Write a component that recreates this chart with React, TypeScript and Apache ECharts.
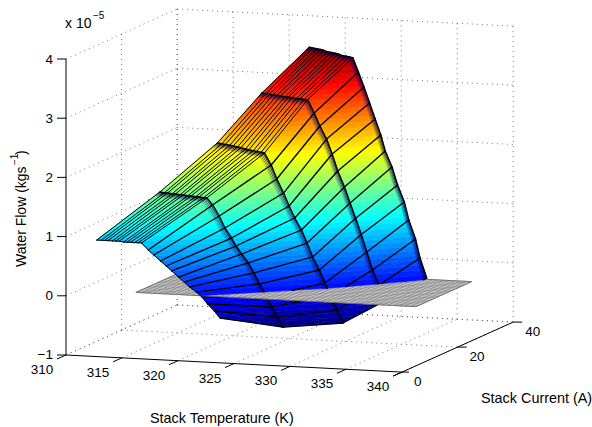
import React, { useEffect, useRef } from "react";
import * as echarts from "echarts";

// Stack current of each mesh column (A)
const currents = [5, 10, 15, 20, 25];
// Stack temperature (K) of each mesh node, one list per current
const tempAt5A = [311.5,311.9,312.2,312.5,312.9,313.2,313.5,313.9,314.2,314.5,314.9,315.2,315.5,316.1,316.6,317.2,317.7,318.2,318.8,319.3,319.8,320.4,320.9,321.4,322.0,322.5];
const tempAt10A = [315.9,316.3,316.6,317.0,317.3,317.7,318.0,318.4,318.7,319.1,319.4,319.8,320.1,320.6,321.2,321.7,322.3,322.7,323.2,323.8,324.3,324.8,325.4,325.9,326.4,326.9];
const tempAt15A = [319.8,320.2,320.5,320.9,321.2,321.6,321.9,322.3,322.6,323.0,323.3,323.7,324.0,324.6,325.1,325.7,326.2,326.7,327.3,327.8,328.3,328.9,329.4,329.9,330.5,331.0];
const tempAt20A = [322.5,322.9,323.2,323.5,323.9,324.2,324.6,324.9,325.2,325.6,325.9,326.3,326.6,327.2,327.7,328.3,328.8,329.3,329.9,330.4,330.9,331.4,331.9,332.4,333.0,333.5];
const tempAt25A = [325.5,325.8,326.2,326.5,326.8,327.1,327.5,327.8,328.1,328.4,328.8,329.1,329.4,329.9,330.4,330.9,331.4,331.9,332.3,332.9,333.4,334.0,334.4,335.0,335.4,336.0];
// Water flow (x 10^-5 kg/s) of each mesh node, one list per current
const flowAt5A = [0.85,0.85,0.85,0.85,0.85,0.85,0.85,0.84,0.84,0.84,0.84,0.84,0.84,0.727,0.647,0.551,0.472,0.393,0.296,0.217,0.138,0.058,-0.021,-0.134,-0.247,-0.36];
const flowAt10A = [1.6,1.59,1.59,1.58,1.58,1.57,1.57,1.56,1.56,1.55,1.55,1.54,1.54,1.425,1.244,1.047,0.883,0.752,0.622,0.476,0.312,0.131,-0.066,-0.247,-0.412,-0.576];
const flowAt15A = [2.36,2.35,2.34,2.33,2.32,2.31,2.3,2.28,2.27,2.26,2.25,2.24,2.23,2.033,1.802,1.57,1.356,1.158,0.961,0.746,0.515,0.301,0.086,-0.128,-0.359,-0.574];
const flowAt20A = [3.12,3.12,3.11,3.1,3.1,3.09,3.08,3.08,3.07,3.06,3.06,3.05,3.05,2.831,2.616,2.402,2.154,1.872,1.607,1.342,1.09,0.82,0.53,0.23,-0.019,-0.284];
const flowAt25A = [3.82,3.81,3.8,3.79,3.78,3.76,3.75,3.74,3.73,3.71,3.7,3.69,3.68,3.444,3.196,2.93,2.665,2.399,2.134,1.869,1.569,1.287,0.988,0.672,0.355,0.023];

const temps = [tempAt5A, tempAt10A, tempAt15A, tempAt20A, tempAt25A];
const flows = [flowAt5A, flowAt10A, flowAt15A, flowAt20A, flowAt25A];

// Axis ticks
const tempTicks = [310, 315, 320, 325, 330, 335, 340];
const currentTicks = [0, 20, 40];
const flowTicks = [-1, 0, 1, 2, 3, 4];
// Zero-flow reference plane
const planeTemps = [315, 340];
const planeCurrents = [5, 25];

const FONT = '"Liberation Sans", Arial, sans-serif';
const W = 592;
const H = 427;
const T0 = 310, T1 = 340, I0 = 0, I1 = 40, Z0 = -1, Z1 = 4;

type P3 = [number, number, number];
const proj = (p: P3): number[] => [
  66 + 11.2 * (p[0] - 310) + 2.78 * p[1],
  355 + 0.57 * (p[0] - 310) - 1.25 * p[1] - 59.2 * (p[2] + 1),
];

const flowMin = -0.576, flowMax = 3.824;
function jet(v: number): string {
  const t = Math.max(0, Math.min(1, (v - flowMin) / (flowMax - flowMin)));
  const ch = (x: number) => Math.round(255 * Math.max(0, Math.min(1, 1.5 - Math.abs(4 * t - x))));
  return `rgb(${ch(3)},${ch(2)},${ch(1)})`;
}

const STEP = 0.08;
const mix = (a: P3, b: P3, f: number): P3 => [a[0] + (b[0] - a[0]) * f, a[1] + (b[1] - a[1]) * f, a[2] + (b[2] - a[2]) * f];
function clipZ(poly: P3[], lim: number, keepAbove: boolean): P3[] {
  const out: P3[] = [];
  for (let i = 0; i < poly.length; i++) {
    const a = poly[i], b = poly[(i + 1) % poly.length];
    const ina = keepAbove ? a[2] >= lim : a[2] <= lim;
    const inb = keepAbove ? b[2] >= lim : b[2] <= lim;
    if (ina) out.push(a);
    if (ina !== inb) out.push(mix(a, b, (lim - a[2]) / (b[2] - a[2])));
  }
  return out;
}
const node = (c: number, r: number): P3 => [temps[c][r], currents[c], flows[c][r]];

const quads: number[][] = [];
for (let c = currents.length - 2; c >= 0; c--) for (let r = 0; r < tempAt5A.length - 1; r++) quads.push([c, r]);

function fillBuilder(above: boolean) {
  return (_: any, api: any) => {
    const c = api.value(0), r = api.value(1);
    const a = node(c, r), b = node(c + 1, r), d = node(c + 1, r + 1), e = node(c, r + 1);
    const children: any[] = [];
    for (const tri of [[a, b, d], [a, d, e]] as P3[][]) {
      const zs = tri.map((p) => p[2]);
      const kMin = Math.floor(Math.min(...zs) / STEP), kMax = Math.floor(Math.max(...zs) / STEP);
      for (let k = kMin; k <= kMax; k++) {
        if ((k >= 0) !== above) continue;
        let poly = clipZ(tri, k * STEP, true);
        poly = clipZ(poly, (k + 1) * STEP, false);
        if (poly.length < 3) continue;
        const col = jet((k + 0.5) * STEP);
        children.push({
          type: "polygon",
          silent: true,
          shape: { points: poly.map((p) => api.coord(proj(p))) },
          style: { fill: col, stroke: col, lineWidth: 0.6 },
        });
      }
    }
    return { type: "group", children };
  };
}

function seg(api: any, a: P3, b: P3, above: boolean, stroke: string, lineWidth: number) {
  let p = a, q = b;
  const sa = a[2] >= 0, sb = b[2] >= 0;
  if (sa !== above && sb !== above) return null;
  if (sa !== sb) {
    const m = mix(a, b, (0 - a[2]) / (b[2] - a[2]));
    if (sa === above) q = m; else p = m;
  }
  const s = api.coord(proj(p)), t = api.coord(proj(q));
  return { type: "line", silent: true, shape: { x1: s[0], y1: s[1], x2: t[0], y2: t[1] }, style: { stroke, lineWidth, lineCap: "round" } };
}

const bandFractions = [0.02, 0.04, 0.06, 0.08];
const PLATEAU_END = 12;
function edgeBuilder(above: boolean) {
  return (_: any, api: any) => {
    const children: any[] = [];
    const add = (el: any) => { if (el) children.push(el); };
    const nR = tempAt5A.length;
    for (let c = 1; c < currents.length; c++) {
      bandFractions.forEach((f, n) => {
        const stroke = `rgba(0,0,110,${0.8 - n * 0.2})`;
        for (let r = 0; r < nR - 1; r++) {
          add(seg(api, mix(node(c, r), node(c - 1, r), f), mix(node(c, r + 1), node(c - 1, r + 1), f), above, stroke, 1));
        }
      });
    }
    for (let r = 0; r < nR; r++) {
      for (let c = 0; c < currents.length - 1; c++) add(seg(api, node(c, r), node(c + 1, r), above, "#000", r <= PLATEAU_END ? 1 : 1.3));
    }
    for (let c = 0; c < currents.length; c++) {
      for (let r = 0; r < nR - 1; r++) add(seg(api, node(c, r), node(c, r + 1), above, "#000", c === 0 ? 1 : 1.5));
    }
    return { type: "group", children };
  };
}

function planeBuilder() {
  return (_: any, api: any) => {
    const [ta, tb] = planeTemps, [ia, ib] = planeCurrents;
    const pt = (t: number, i: number) => api.coord(proj([t, i, 0]));
    const children: any[] = [{
      type: "polygon", silent: true,
      shape: { points: [pt(ta, ia), pt(tb, ia), pt(tb, ib), pt(ta, ib)] },
      style: { fill: "#e4e4e4", stroke: "#666", lineWidth: 0.8 },
    }];
    const line = (s: number[], t: number[]) => ({
      type: "line", silent: true, shape: { x1: s[0], y1: s[1], x2: t[0], y2: t[1] }, style: { stroke: "#666", lineWidth: 0.5 },
    });
    for (let i = ia; i <= ib; i += 1) children.push(line(pt(ta, i), pt(tb, i)));
    for (let t = ta; t <= tb; t += 0.5) children.push(line(pt(t, ia), pt(t, ib)));
    return { type: "group", children };
  };
}

function gridBuilder() {
  return (_: any, api: any) => {
    const children: any[] = [];
    const dot = (a: P3, b: P3) => {
      const s = api.coord(proj(a)), t = api.coord(proj(b));
      children.push({ type: "line", silent: true, shape: { x1: s[0], y1: s[1], x2: t[0], y2: t[1] }, style: { stroke: "#555", lineWidth: 0.8, lineDash: [1, 4] } });
    };
    for (const z of flowTicks) {
      dot([T0, I0, z], [T0, I1, z]);
      dot([T0, I1, z], [T1, I1, z]);
    }
    for (const t of tempTicks) {
      dot([t, I1, Z0], [t, I1, Z1]);
      dot([t, I0, Z0], [t, I1, Z0]);
    }
    for (const i of currentTicks) {
      if (i > 0) {
        dot([T0, i, Z0], [T0, i, Z1]);
        dot([T0, i, Z0], [T1, i, Z0]);
      }
    }
    return { type: "group", children };
  };
}

function axisBuilder() {
  return (_: any, api: any) => {
    const children: any[] = [];
    const ln = (s: number[], t: number[]) => children.push({
      type: "line", silent: true, shape: { x1: s[0], y1: s[1], x2: t[0], y2: t[1] }, style: { stroke: "#000", lineWidth: 1 },
    });
    const tx = (text: string, x: number, y: number, align: string) => children.push({
      type: "text", silent: true, x, y,
      style: { text, fill: "#000", fontSize: 13.5, fontFamily: FONT, align, verticalAlign: "middle" },
    });
    const c = (p: P3) => api.coord(proj(p));
    ln(c([T0, I0, Z0]), c([T0, I0, Z1]));
    ln(c([T0, I0, Z0]), c([T1, I0, Z0]));
    ln(c([T1, I0, Z0]), c([T1, I1, Z0]));
    for (const z of flowTicks) {
      const p = c([T0, I0, z]);
      ln(p, [p[0] - 9, p[1]]);
      tx(z < 0 ? "\u2212" + Math.abs(z) : String(z), p[0] - 13, p[1] - (z < 0 ? 0.5 : 0), "right");
    }
    for (const t of tempTicks) {
      const p = c([t, I0, Z0]);
      ln(p, [p[0] - 9, p[1] + 4]);
      tx(String(t), p[0] - 24, p[1] + 14.5, "center");
    }
    for (const i of currentTicks) {
      const p = c([T1, i, Z0]);
      ln(p, [p[0] + (i === 0 ? 7 : 9), p[1]]);
      if (i === 0) ln(p, [p[0] - 9, p[1] + 4]);
      tx(String(i), p[0] + 12, p[1] + 9, "left");
    }
    return { type: "group", children };
  };
}

const custom = (renderItem: any, data: number[][] = [[0, 0]]) => ({
  type: "custom", coordinateSystem: "cartesian2d", renderItem, data, silent: true, clip: false, progressive: 0, animation: false,
});

const txt = (text: string, x: number, y: number, fontSize = 14.4, rotation = 0, align = "left") => ({
  type: "text", x, y, rotation, silent: true,
  style: { text, fill: "#000", fontSize, fontFamily: FONT, align, verticalAlign: "middle" },
});

export default function App() {
  const ref = useRef<HTMLDivElement>(null);
  useEffect(() => {
    document.body.style.margin = "0";
    const chart = echarts.init(ref.current!, null, { renderer: "svg" });
    chart.setOption({
      animation: false,
      backgroundColor: "#fff",
      grid: { left: 0, top: 0, width: W, height: H },
      xAxis: { type: "value", min: 0, max: W, show: false },
      yAxis: { type: "value", min: 0, max: H, inverse: true, show: false },
      series: [
        custom(gridBuilder()),
        custom(fillBuilder(false), quads),
        custom(edgeBuilder(false)),
        custom(planeBuilder()),
        custom(fillBuilder(true), quads),
        custom(edgeBuilder(true)),
        custom(axisBuilder()),
      ],
      graphic: [
        txt("x 10", 65, 23, 14),
        txt("\u22125", 93, 15, 10),
        txt("Stack Temperature (K)", 150, 418),
        txt("Stack Current (A)", 481, 398),
        txt("Water Flow (kgs", 21, 267, 14, Math.PI / 2),
        txt("\u22121", 14, 165, 10, Math.PI / 2),
        txt(")", 21, 155, 14, Math.PI / 2),
      ],
    });
    return () => chart.dispose();
  }, []);
  return <div ref={ref} style={{ position: "fixed", left: 0, top: 0, width: W, height: H }} />;
}
